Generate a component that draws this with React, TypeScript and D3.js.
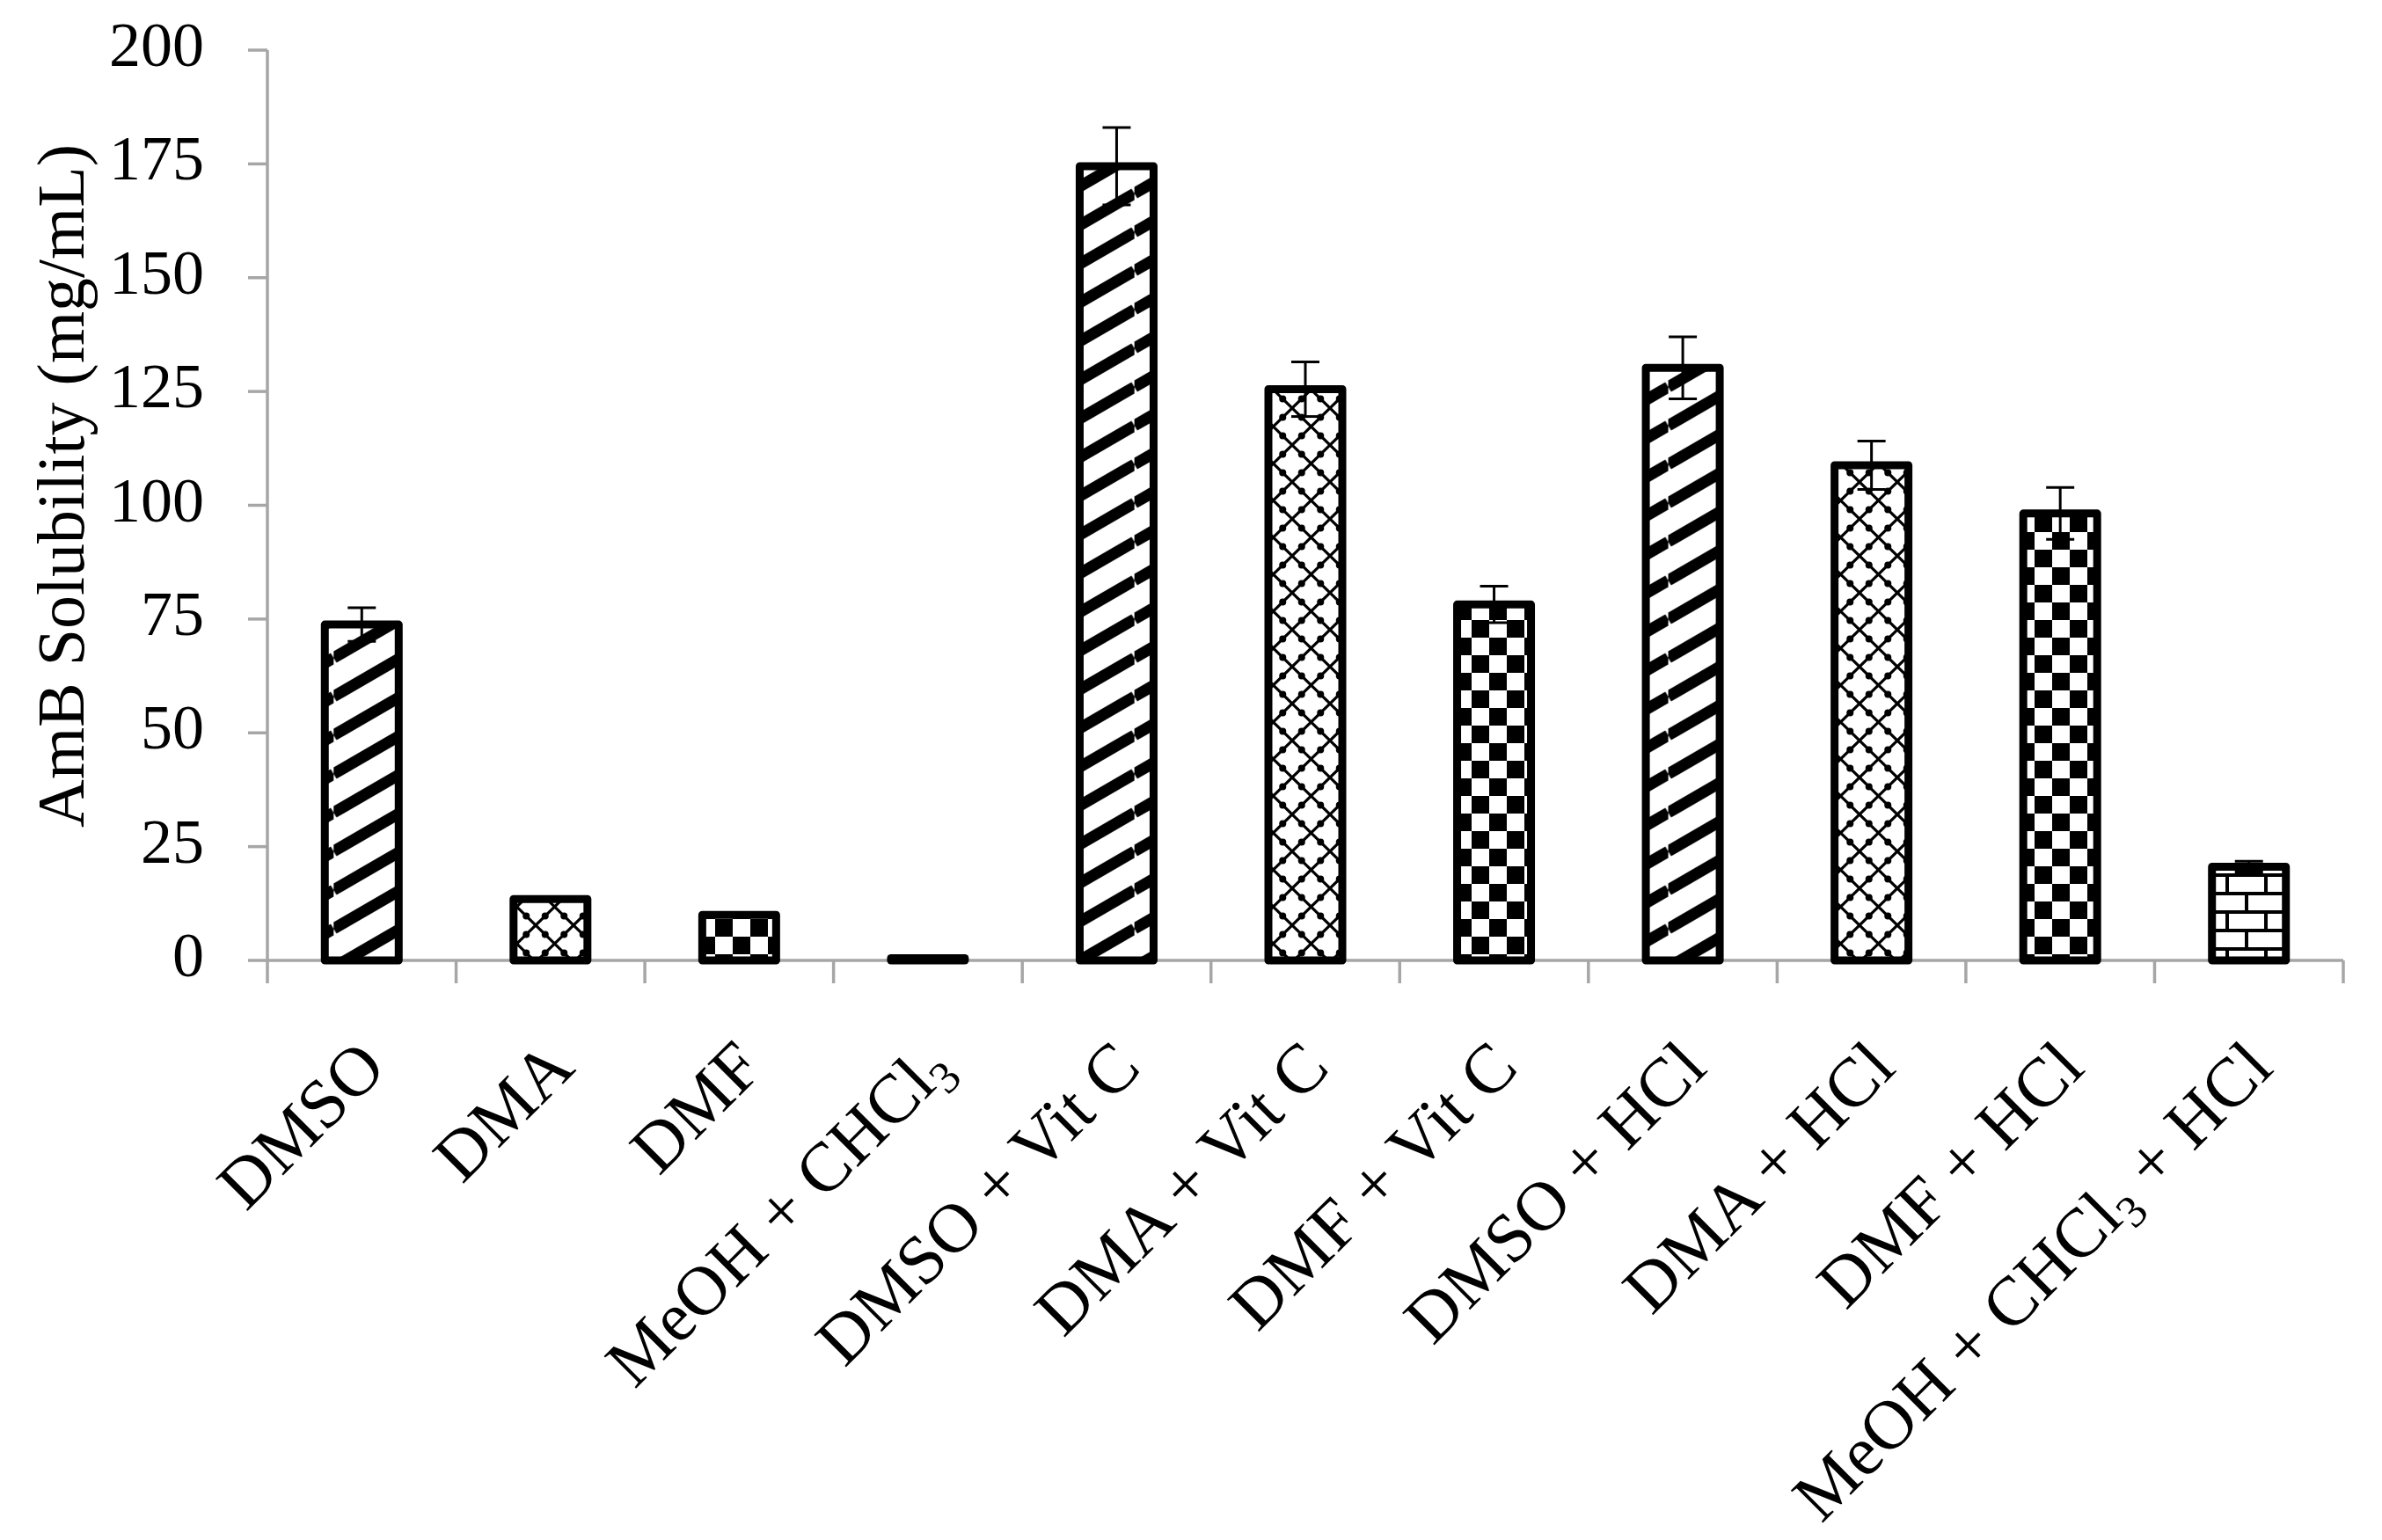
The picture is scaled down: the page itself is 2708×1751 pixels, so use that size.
import React from 'react';
import * as d3 from 'd3';

const width = 2708;
const height = 1751;
const margin = {top: 57, right: 44, bottom: 659, left: 304};
const axisGray = '#a6a6a6';
const font = '"Liberation Serif", "Times New Roman", serif';

const categories = [
  'DMSO', 'DMA', 'DMF', 'MeOH + CHCl3',
  'DMSO + Vit C', 'DMA + Vit C', 'DMF + Vit C',
  'DMSO + HCl', 'DMA + HCl', 'DMF + HCl', 'MeOH + CHCl3 + HCl',
];
const solubility = [73.8, 13.5, 10, 0.5, 174.5, 125.5, 78.2, 130.2, 108.8, 98.2, 20.6];
const errors = [3.7, 0.3, 0.3, 0.1, 8.5, 6, 4, 6.8, 5.3, 5.7, 1.2];
// which fill each bar gets
const fills = ['stripes', 'diamond', 'checker', 'brick', 'stripes', 'diamond', 'checker', 'stripes', 'diamond', 'checker', 'brick'];
const yTicks = [0, 25, 50, 75, 100, 125, 150, 175, 200];

const x = d3.scaleBand().domain(categories).range([margin.left, width - margin.right]).padding(0);
const y = d3.scaleLinear().domain([0, 200]).range([height - margin.bottom, margin.top]);
const barWidth = 84;
const y0 = y(0);

// stripe tile: vertical period 44, slope ~30deg
const sH = 44;
const sW = sH / 0.58;

// CHCl3 gets its subscript
function label(text) {
  const parts = text.split('CHCl3');
  const out = [];
  parts.forEach((p, i) => {
    out.push(<tspan key={'p' + i} dy={i > 0 ? -15 : 0}>{p}</tspan>);
    if (i < parts.length - 1) {
      out.push(<tspan key={'s' + i}>CHCl</tspan>);
      out.push(<tspan key={'n' + i} fontSize={52} dy={15}>3</tspan>);
    }
  });
  return out;
}

function Patterns() {
  return (
    <defs>
      <pattern id="stripes" patternUnits="userSpaceOnUse" width={sW} height={sH}>
        <rect width={sW} height={sH} fill="#fff"/>
        <path d={`M0,${sH}L${sW},0M0,${2 * sH}L${sW},${sH}M0,0L${sW},${-sH}`} stroke="#000" strokeWidth={13}/>
      </pattern>
      <pattern id="diamond" patternUnits="userSpaceOnUse" width={43} height={42} x={7} y={2}>
        <rect width={43} height={42} fill="#fff"/>
        <path d="M0,0L43,42M43,0L0,42" stroke="#000" strokeWidth={3.2}/>
        {[[10.75, 10.5], [32.25, 10.5], [10.75, 31.5], [32.25, 31.5]].map(([cx, cy], i) =>
          <circle key={i} cx={cx} cy={cy} r={4} fill="#000"/>)}
      </pattern>
      <pattern id="checker" patternUnits="userSpaceOnUse" width={40} height={40} x={13} y={5}>
        <rect width={40} height={40} fill="#fff"/>
        <rect width={20} height={20} fill="#000"/>
        <rect x={20} y={20} width={20} height={20} fill="#000"/>
      </pattern>
      <pattern id="brick" patternUnits="userSpaceOnUse" width={44} height={42} x={0} y={6}>
        <rect width={44} height={42} fill="#fff"/>
        <rect width={44} height={4} fill="#000"/>
        <rect y={21} width={44} height={4} fill="#000"/>
        <rect x={0} y={0} width={4} height={21} fill="#000"/>
        <rect x={22} y={21} width={4} height={21} fill="#000"/>
      </pattern>
    </defs>
  );
}

export default function App() {
  const bw = x.bandwidth();
  return (
    <div>
      <style>{'body{margin:0}'}</style>
      <svg width={width} height={height} style={{display: 'block', background: '#fff'}} fontFamily={font}>
        <Patterns/>

        {/* axes */}
        <g stroke={axisGray} strokeWidth={3.5}>
          <line x1={margin.left} x2={margin.left} y1={margin.top} y2={y0 + 26}/>
          <line x1={margin.left} x2={width - margin.right} y1={y0} y2={y0}/>
          {yTicks.map(t => <line key={t} x1={margin.left - 22} x2={margin.left} y1={y(t)} y2={y(t)}/>)}
          {categories.map(c => <line key={c} x1={x(c) + bw} x2={x(c) + bw} y1={y0} y2={y0 + 26}/>)}
        </g>

        {yTicks.map(t => (
          <text key={t} x={232} y={y(t) + 18} fontSize={72} textAnchor="end" fill="#000">{t}</text>
        ))}

        <text transform={`translate(95, ${(y(0) + y(200)) / 2 - 22}) rotate(-90)`} fontSize={76} textAnchor="middle" fill="#000">
          AmB Solubility (mg/mL)
        </text>

        {/* bars */}
        {categories.map((c, i) => {
          const cx = x(c) + bw / 2;
          return (
            <rect key={c} x={cx - barWidth / 2} y={y(solubility[i])} width={barWidth}
              height={y0 - y(solubility[i])} fill={`url(#${fills[i]})`}
              stroke="#000" strokeWidth={9} strokeLinejoin="round"/>
          );
        })}

        {/* error bars */}
        <g stroke="#000" strokeWidth={3}>
          {categories.map((c, i) => {
            const cx = x(c) + bw / 2;
            const hi = y(solubility[i] + errors[i]);
            const lo = y(solubility[i] - errors[i]);
            return (
              <g key={c}>
                <line x1={cx} x2={cx} y1={hi} y2={lo}/>
                <line x1={cx - 16} x2={cx + 16} y1={hi} y2={hi}/>
                <line x1={cx - 16} x2={cx + 16} y1={lo} y2={lo}/>
              </g>
            );
          })}
        </g>

        {categories.map(c => (
          <text key={c} transform={`translate(${x(c) + bw / 2 + 30}, ${y0 + 125}) rotate(-45)`}
            fontSize={79} textAnchor="end" fill="#000">
            {label(c)}
          </text>
        ))}
      </svg>
    </div>
  );
}
